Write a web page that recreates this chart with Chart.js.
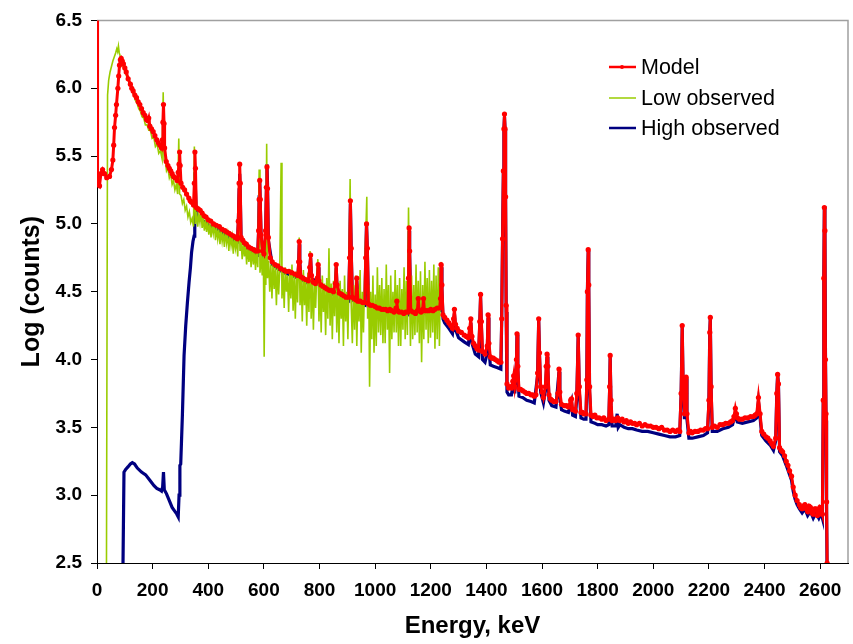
<!DOCTYPE html>
<html>
<head>
<meta charset="utf-8">
<title>Spectrum</title>
<script src="https://cdn.jsdelivr.net/npm/chart.js@4.4.1/dist/chart.umd.min.js"></script>
<style>
  html, body { margin: 0; padding: 0; background: #ffffff; }
  #wrap { width: 853px; height: 644px; }
</style>
</head>
<body>
<div id="wrap"><canvas id="spectrum" width="853" height="644"></canvas></div>
<script>
// tick labels
const energyTicks = [0, 200, 400, 600, 800, 1000, 1200, 1400, 1600, 1800, 2000, 2200, 2400, 2600];
const logTicks = [2.5, 3.0, 3.5, 4.0, 4.5, 5.0, 5.5, 6.0, 6.5];

// [energy keV, log(counts)]
const modelPoints = [
  [0,6.6],[2,5.32],[5,5.29],[9,5.28],[14,5.37],[20,5.40],[27,5.37],[35,5.34],[45,5.35],[52,5.40],
  [57,5.47],[60,5.58],[63,5.71],[67,5.80],[70,5.88],[75,6.00],[78,6.09],[81,6.17],[84,6.21],[87,6.22],
  [91,6.20],[95,6.18],[100,6.15],[105,6.12],[112,6.07],[120,6.03],[125,6.00],[130,5.98],[136,5.95],[142,5.93],
  [148,5.90],[154,5.88],[160,5.85],[166,5.82],[172,5.80],[178,5.77],[183,5.76],[186,5.78],[190,5.72],[196,5.70],
  [202,5.68],[208,5.65],[215,5.62],[220,5.60],[226,5.58],[232,5.56],[235,5.62],[237,5.75],[239,5.88],[241,5.74],
  [243,5.56],[249,5.46],[255,5.43],[260,5.41],[265,5.39],[270,5.37],[275,5.35],[280,5.34],[288,5.32],[292,5.38],
  [295,5.44],[297,5.53],[299,5.43],[302,5.30],[308,5.27],[315,5.25],[322,5.22],[330,5.19],[335,5.17],[340,5.16],
  [347,5.14],[350,5.30],[352,5.53],[354,5.41],[357,5.12],[364,5.11],[371,5.10],[378,5.08],[385,5.06],[392,5.05],
  [400,5.03],[409,5.02],[419,5.00],[429,4.99],[440,4.98],[450,4.96],[460,4.95],[467,4.94],[475,4.93],[483,4.92],
  [491,4.91],[498,4.90],[505,4.89],[508,5.02],[511,5.30],[513,5.44],[515,5.30],[518,4.90],[524,4.88],[530,4.86],
  [537,4.85],[545,4.83],[554,4.82],[564,4.81],[571,4.80],[578,4.80],[581,4.95],[583,5.18],[585,5.32],[587,5.18],
  [590,4.92],[595,4.80],[600,4.78],[606,4.95],[609,5.27],[611,5.42],[613,5.26],[616,4.90],[623,4.75],[630,4.72],
  [640,4.70],[650,4.69],[661,4.67],[672,4.66],[680,4.65],[690,4.65],[700,4.64],[711,4.63],[722,4.62],[725,4.72],
  [727,4.87],[729,4.72],[733,4.61],[741,4.60],[750,4.59],[760,4.58],[765,4.68],[768,4.77],[771,4.62],[778,4.57],
  [785,4.56],[792,4.60],[795,4.70],[798,4.58],[805,4.55],[812,4.54],[820,4.53],[827,4.52],[835,4.51],[842,4.51],
  [850,4.50],[857,4.56],[860,4.70],[863,4.55],[871,4.49],[880,4.48],[887,4.47],[895,4.46],[905,4.46],[908,4.75],
  [911,5.17],[914,4.82],[918,4.46],[924,4.45],[930,4.44],[934,4.60],[938,4.43],[946,4.43],[955,4.42],[963,4.42],
  [966,4.75],[969,5.00],[972,4.82],[976,4.41],[983,4.40],[990,4.40],[1000,4.39],[1008,4.38],[1015,4.38],[1023,4.37],
  [1030,4.37],[1038,4.37],[1045,4.36],[1053,4.37],[1060,4.36],[1068,4.35],[1075,4.38],[1078,4.43],[1081,4.36],[1086,4.35],
  [1095,4.35],[1103,4.34],[1110,4.35],[1118,4.35],[1120,4.60],[1122,4.97],[1124,4.80],[1128,4.36],[1136,4.35],[1145,4.34],
  [1152,4.36],[1155,4.45],[1158,4.36],[1165,4.35],[1171,4.37],[1174,4.45],[1177,4.36],[1185,4.36],[1193,4.36],[1200,4.37],
  [1208,4.36],[1215,4.37],[1223,4.38],[1232,4.38],[1235,4.45],[1237,4.70],[1240,4.55],[1244,4.33],[1250,4.31],[1258,4.29],
  [1265,4.27],[1272,4.25],[1278,4.23],[1282,4.30],[1285,4.37],[1289,4.26],[1295,4.23],[1300,4.21],[1310,4.20],[1320,4.18],
  [1328,4.17],[1335,4.16],[1340,4.23],[1344,4.30],[1348,4.17],[1354,4.12],[1360,4.10],[1366,4.08],[1372,4.07],[1376,4.28],
  [1379,4.48],[1382,4.28],[1386,4.06],[1395,4.04],[1403,4.10],[1406,4.33],[1409,4.12],[1414,4.02],[1420,4.01],[1425,4.01],
  [1432,4.00],[1440,3.99],[1446,3.98],[1452,3.98],[1455,4.30],[1458,4.89],[1461,5.39],[1463,5.70],[1465,5.81],[1467,5.70],
  [1469,5.20],[1471,4.40],[1474,3.82],[1480,3.79],[1485,3.80],[1490,3.79],[1495,3.84],[1498,3.88],[1502,3.80],[1506,3.86],
  [1508,4.00],[1510,4.19],[1513,3.95],[1517,3.78],[1523,3.78],[1530,3.77],[1538,3.76],[1545,3.75],[1552,3.75],[1560,3.74],
  [1566,3.74],[1572,3.73],[1578,3.74],[1584,3.90],[1588,4.30],[1591,4.05],[1595,3.80],[1600,3.76],[1605,3.72],[1612,3.80],
  [1615,3.95],[1618,4.04],[1621,3.95],[1625,3.74],[1630,3.71],[1635,3.70],[1642,3.69],[1650,3.69],[1657,3.75],[1661,3.93],
  [1664,3.76],[1670,3.67],[1680,3.66],[1688,3.66],[1695,3.65],[1703,3.70],[1706,3.71],[1710,3.63],[1715,3.63],[1720,3.62],
  [1725,3.75],[1730,4.18],[1734,3.80],[1740,3.61],[1745,3.61],[1750,3.60],[1758,3.60],[1761,3.85],[1763,4.50],[1766,4.81],
  [1768,4.55],[1771,3.80],[1776,3.59],[1783,3.58],[1790,3.59],[1797,3.57],[1805,3.57],[1815,3.56],[1822,3.57],[1830,3.55],
  [1840,3.56],[1843,3.80],[1845,4.03],[1848,3.70],[1852,3.55],[1858,3.56],[1865,3.55],[1872,3.57],[1880,3.55],[1888,3.56],
  [1895,3.54],[1903,3.55],[1910,3.53],[1918,3.54],[1925,3.53],[1933,3.53],[1940,3.52],[1950,3.53],[1960,3.51],[1970,3.52],
  [1980,3.51],[1990,3.51],[2000,3.50],[2010,3.50],[2020,3.49],[2030,3.50],[2040,3.48],[2050,3.48],[2060,3.47],[2070,3.48],
  [2080,3.47],[2088,3.48],[2095,3.47],[2100,3.75],[2104,4.25],[2107,3.85],[2112,3.60],[2116,3.75],[2118,3.87],[2121,3.60],
  [2128,3.46],[2134,3.47],[2140,3.46],[2150,3.47],[2160,3.47],[2170,3.48],[2180,3.48],[2188,3.49],[2195,3.49],[2200,3.70],
  [2203,4.20],[2205,4.31],[2208,3.80],[2212,3.50],[2220,3.51],[2230,3.50],[2240,3.52],[2250,3.52],[2260,3.53],[2270,3.53],
  [2278,3.54],[2285,3.55],[2290,3.58],[2295,3.64],[2299,3.60],[2302,3.57],[2310,3.56],[2320,3.56],[2330,3.57],[2340,3.57],
  [2350,3.58],[2360,3.58],[2366,3.59],[2372,3.60],[2378,3.72],[2384,3.60],[2390,3.47],[2397,3.45],[2405,3.43],[2412,3.42],
  [2420,3.40],[2426,3.38],[2432,3.36],[2440,3.42],[2444,3.75],[2447,3.89],[2450,3.82],[2454,3.35],[2460,3.33],[2465,3.32],
  [2472,3.29],[2478,3.25],[2484,3.22],[2490,3.18],[2497,3.14],[2503,3.06],[2510,3.00],[2517,2.96],[2525,2.93],[2530,2.91],
  [2535,2.90],[2540,2.92],[2545,2.93],[2550,2.90],[2555,2.88],[2560,2.92],[2565,2.91],[2570,2.87],[2575,2.86],[2580,2.90],
  [2585,2.90],[2590,2.85],[2595,2.86],[2599,2.91],[2603,2.90],[2608,2.86],[2611,3.70],[2613,4.60],[2615,5.12],[2617,4.95],
  [2619,4.00],[2621,3.60],[2623,2.95],[2625,2.50]
];

const lowPoints = [
  [34,2.40],[38,5.95],[42,6.06],[47,6.12],[52,6.16],[57,6.20],[62,6.23],[67,6.26],[71,6.29],[74,6.27],
  [77,6.31],[80,6.26],[83,6.24],[87,6.20],[92,6.17],[97,6.14],[102,6.12],[108,6.08],[114,6.05],[120,6.02],
  [126,5.98],[132,5.95],[138,5.91],[144,5.89],[150,5.85],[156,5.83],[162,5.79],[168,5.78],[174,5.73],[180,5.73],
  [186,5.69],[192,5.69],[198,5.63],[204,5.64],[210,5.57],[216,5.59],[222,5.52],[228,5.54],[234,5.48],[238,5.97],
  [241,5.47],[246,5.46],[250,5.39],[255,5.41],[260,5.34],[265,5.37],[270,5.29],[275,5.32],[280,5.25],[285,5.29],
  [290,5.22],[294,5.63],[297,5.22],[302,5.21],[307,5.15],[312,5.18],[317,5.10],[322,5.13],[327,5.05],[332,5.09],
  [337,5.01],[342,5.04],[347,4.98],[350,5.57],[354,5.00],[358,5.09],[362,4.98],[366,5.07],[370,5.01],[374,5.10],
  [378,4.97],[382,5.04],[386,4.95],[390,5.03],[394,4.94],[398,5.02],[402,4.92],[406,5.00],[410,4.90],[414,4.99],
  [418,4.93],[422,5.00],[426,4.88],[430,4.97],[434,4.89],[438,4.96],[442,4.85],[446,4.95],[450,4.87],[454,4.93],
  [458,4.83],[462,4.95],[466,4.86],[470,4.92],[474,4.80],[478,4.92],[482,4.84],[486,4.90],[490,4.78],[494,4.90],
  [498,4.82],[502,4.88],[506,4.76],[511,5.20],[514,4.80],[518,4.87],[522,4.74],[526,4.86],[530,4.76],[534,4.84],
  [538,4.70],[542,4.84],[546,4.72],[550,4.82],[554,4.68],[558,4.83],[562,4.70],[566,4.80],[570,4.66],[574,4.82],
  [578,4.68],[583,5.40],[586,4.64],[590,4.78],[594,4.62],[598,4.80],[601,4.02],[604,4.75],[607,4.55],[610,5.59],
  [613,4.60],[617,4.73],[621,4.50],[625,4.70],[629,4.45],[633,4.72],[637,4.52],[641,4.68],[645,4.40],[649,4.70],
  [653,4.48],[657,4.66],[662,5.45],[665,4.45],[669,4.64],[673,4.38],[677,4.68],[681,4.50],[685,4.62],[689,4.35],
  [693,4.66],[697,4.45],[701,4.70],[705,4.36],[709,4.62],[713,4.30],[717,4.65],[721,4.42],[725,4.75],[727,4.90],
  [730,4.40],[734,4.62],[738,4.28],[742,4.66],[746,4.40],[750,4.60],[754,4.25],[758,4.64],[762,4.35],[766,4.80],
  [770,4.30],[774,4.60],[778,4.22],[782,4.58],[786,4.38],[790,4.62],[794,4.74],[798,4.28],[802,4.58],[806,4.20],
  [810,4.62],[814,4.35],[818,4.56],[822,4.18],[826,4.60],[830,4.30],[834,4.82],[838,4.25],[842,4.56],[846,4.15],
  [850,4.58],[854,4.32],[858,4.70],[862,4.20],[866,4.55],[870,4.12],[874,4.58],[878,4.30],[882,4.52],[886,4.10],
  [890,4.62],[894,4.28],[898,4.50],[902,4.15],[906,4.60],[910,5.33],[914,4.40],[918,4.12],[922,4.55],[926,4.22],
  [930,4.62],[934,4.10],[938,4.52],[942,4.28],[946,4.66],[950,4.05],[954,4.50],[958,4.20],[962,4.58],[966,4.90],
  [970,5.20],[973,4.30],[977,4.55],[980,3.80],[984,4.50],[988,4.15],[992,4.62],[996,4.05],[1000,4.48],[1004,4.10],
  [1008,4.68],[1012,4.20],[1016,4.55],[1020,4.18],[1024,4.60],[1028,4.12],[1032,4.52],[1036,4.12],[1040,4.70],[1044,4.22],
  [1048,4.55],[1052,3.90],[1056,4.62],[1060,4.15],[1064,4.50],[1068,4.20],[1072,4.66],[1076,4.20],[1080,4.55],[1084,4.10],
  [1088,4.60],[1092,4.10],[1096,4.52],[1100,4.22],[1104,4.68],[1108,4.15],[1112,4.58],[1116,4.18],[1120,5.12],[1123,4.55],
  [1127,4.10],[1131,4.62],[1135,4.15],[1139,4.55],[1143,4.18],[1147,4.70],[1151,4.20],[1155,4.58],[1159,4.12],[1163,4.65],
  [1167,3.98],[1171,4.55],[1175,4.15],[1179,4.72],[1183,4.22],[1187,4.60],[1191,4.12],[1195,4.66],[1199,4.16],[1203,4.58],
  [1207,4.20],[1211,4.70],[1215,4.08],[1219,4.62],[1223,4.15],[1227,4.68],[1231,4.10],[1235,4.65],[1238,4.72]
];

const highPoints = [
  [93,2.40],[97,3.17],[103,3.19],[112,3.21],[120,3.23],[127,3.24],[135,3.23],[145,3.20],[160,3.17],[175,3.15],
  [190,3.11],[205,3.07],[215,3.05],[225,3.04],[232,3.03],[236,3.06],[239,3.17],[242,3.04],[250,3.01],[260,2.96],
  [270,2.91],[280,2.88],[287,2.86],[292,2.84],[295,3.00],[298,3.22],[301,3.23],[307,3.59],[313,4.03],[319,4.25],
  [325,4.42],[331,4.57],[336,4.68],[340,4.79],[345,4.87],[349,4.91],[351,5.10],[352,5.38],[354,5.25],[357,5.06],
  [360,5.04],[375,5.03],[390,5.01],[400,4.99],[420,4.97],[440,4.95],[460,4.92],[490,4.88],[505,4.87],[508,5.00],
  [511,5.25],[513,5.37],[515,5.22],[518,4.88],[540,4.82],[564,4.78],[578,4.77],[581,4.95],[583,5.20],[585,5.32],
  [587,5.15],[590,4.90],[600,4.75],[606,4.90],[609,5.25],[611,5.44],[613,5.30],[616,4.88],[630,4.70],[650,4.67],
  [672,4.64],[700,4.62],[722,4.60],[725,4.70],[727,4.85],[729,4.72],[733,4.59],[760,4.56],[765,4.66],[768,4.75],
  [771,4.60],[792,4.57],[795,4.68],[798,4.55],[850,4.48],[857,4.54],[860,4.68],[863,4.52],[905,4.44],[908,4.72],
  [911,5.15],[914,4.80],[918,4.44],[930,4.42],[934,4.58],[938,4.41],[963,4.40],[966,4.72],[969,5.00],[972,4.80],
  [976,4.39],[1000,4.37],[1060,4.34],[1118,4.33],[1120,4.58],[1122,4.95],[1124,4.78],[1128,4.34],[1185,4.34],[1232,4.36],
  [1235,4.42],[1237,4.68],[1240,4.52],[1244,4.30],[1250,4.27],[1265,4.23],[1278,4.19],[1282,4.27],[1285,4.34],[1289,4.22],
  [1300,4.16],[1320,4.13],[1335,4.11],[1340,4.19],[1344,4.27],[1348,4.12],[1360,4.04],[1372,4.02],[1376,4.25],[1379,4.46],
  [1382,4.24],[1386,4.00],[1395,3.98],[1403,4.05],[1406,4.31],[1409,4.08],[1414,3.96],[1425,3.95],[1440,3.94],[1452,3.93],
  [1455,4.30],[1458,4.89],[1461,5.39],[1463,5.70],[1465,5.79],[1467,5.70],[1469,5.20],[1471,4.35],[1474,3.76],[1480,3.74],
  [1490,3.74],[1498,3.84],[1502,3.75],[1508,3.98],[1510,4.18],[1513,3.92],[1517,3.73],[1530,3.72],[1545,3.70],[1560,3.69],
  [1572,3.68],[1584,3.88],[1588,4.29],[1591,4.02],[1595,3.76],[1605,3.68],[1612,3.77],[1618,4.02],[1621,3.92],[1625,3.70],
  [1635,3.66],[1650,3.65],[1661,3.91],[1664,3.72],[1670,3.63],[1680,3.62],[1695,3.61],[1706,3.69],[1710,3.59],[1720,3.58],
  [1725,3.72],[1730,4.18],[1734,3.76],[1740,3.57],[1750,3.56],[1758,3.56],[1761,3.85],[1763,4.50],[1766,4.80],[1768,4.52],
  [1771,3.76],[1776,3.54],[1790,3.53],[1800,3.52],[1815,3.52],[1830,3.51],[1840,3.52],[1843,3.78],[1845,4.02],[1848,3.66],
  [1852,3.51],[1865,3.51],[1870,3.60],[1874,3.50],[1880,3.52],[1895,3.50],[1910,3.49],[1925,3.49],[1940,3.48],[1960,3.47],
  [1980,3.47],[2000,3.46],[2020,3.45],[2040,3.44],[2060,3.43],[2080,3.43],[2095,3.44],[2100,3.74],[2104,4.24],[2107,3.82],
  [2112,3.56],[2116,3.72],[2118,3.86],[2121,3.56],[2128,3.42],[2140,3.42],[2160,3.43],[2180,3.44],[2195,3.46],[2200,3.68],
  [2203,4.20],[2205,4.31],[2208,3.76],[2212,3.47],[2230,3.47],[2250,3.49],[2270,3.50],[2285,3.52],[2295,3.60],[2302,3.54],
  [2320,3.53],[2340,3.54],[2360,3.55],[2372,3.57],[2378,3.69],[2384,3.57],[2390,3.44],[2405,3.40],[2420,3.37],[2432,3.33],
  [2440,3.40],[2444,3.75],[2447,3.89],[2450,3.82],[2454,3.32],[2465,3.29],[2478,3.22],[2490,3.15],[2497,3.11],[2503,3.03],
  [2510,2.97],[2517,2.93],[2525,2.90],[2535,2.87],[2545,2.90],[2555,2.85],[2565,2.88],[2575,2.83],[2585,2.87],[2595,2.83],
  [2603,2.87],[2608,2.83],[2611,3.70],[2613,4.60],[2615,5.13],[2617,4.98],[2619,4.05],[2621,3.55],[2623,2.90],[2625,2.40]
];

const toXY = pts => pts.map(p => ({ x: p[0], y: p[1] }));
const axisFont = { family: 'Liberation Sans, Arial, sans-serif', size: 19, weight: 'bold' };
const xTitleFont = { family: 'Liberation Sans, Arial, sans-serif', size: 24, weight: 'bold' };
const yTitleFont = { family: 'Liberation Sans, Arial, sans-serif', size: 25, weight: 'bold' };

// grey plot-area border on top and right, legend in the corner
const framePlugin = {
  id: 'frame',
  beforeDatasetsDraw(chart) {
    const a = chart.chartArea;
    const ctx = chart.ctx;
    ctx.save();
    ctx.strokeStyle = '#a0a0a0';
    ctx.lineWidth = 1.5;
    ctx.beginPath();
    ctx.moveTo(a.left, a.top);
    ctx.lineTo(a.right, a.top);
    ctx.lineTo(a.right, a.bottom);
    ctx.stroke();
    ctx.restore();
  },
  afterDraw(chart) {
    const ctx = chart.ctx;
    const rows = [67, 98, 128];
    ctx.save();
    ctx.font = '21.5px "Liberation Sans", Arial, sans-serif';
    ctx.textBaseline = 'middle';
    chart.data.datasets.forEach((ds, i) => {
      const y = rows[i];
      ctx.strokeStyle = ds.borderColor;
      ctx.lineWidth = ds.legendWidth;
      ctx.beginPath();
      ctx.moveTo(609, y);
      ctx.lineTo(636, y);
      ctx.stroke();
      if (ds.pointRadius > 0) {
        ctx.fillStyle = ds.borderColor;
        ctx.beginPath();
        ctx.arc(622, y, 2, 0, Math.PI * 2);
        ctx.fill();
      }
      ctx.fillStyle = '#000000';
      ctx.fillText(ds.label, 641, y + 1);
    });
    ctx.restore();
  }
};

new Chart(document.getElementById('spectrum'), {
  type: 'line',
  data: {
    datasets: [
      {
        label: 'Model',
        data: toXY(modelPoints),
        borderColor: '#ff0000',
        borderWidth: 3,
        legendWidth: 2.5,
        pointRadius: 2.6,
        pointBackgroundColor: '#ff0000',
        pointBorderWidth: 0,
        tension: 0
      },
      {
        label: 'Low observed',
        data: toXY(lowPoints),
        borderColor: '#99cc00',
        borderWidth: 1.6,
        legendWidth: 1.5,
        pointRadius: 0,
        tension: 0
      },
      {
        label: 'High observed',
        data: toXY(highPoints),
        borderColor: '#000080',
        borderWidth: 3.2,
        legendWidth: 2.5,
        pointRadius: 0,
        tension: 0
      }
    ]
  },
  options: {
    responsive: false,
    devicePixelRatio: 1,
    animation: false,
    events: [],
    layout: { padding: { top: 15, right: 5, bottom: 0, left: 0 } },
    plugins: {
      legend: { display: false },
      tooltip: { enabled: false }
    },
    scales: {
      x: {
        type: 'linear',
        min: 0,
        max: 2700,
        afterBuildTicks: scale => { scale.ticks = energyTicks.map(v => ({ value: v })); },
        afterFit: scale => { scale.height = 81; },
        ticks: { color: '#000', font: axisFont, padding: 10, maxRotation: 0, autoSkip: false, callback: v => String(v) },
        grid: { display: true, drawOnChartArea: false, drawTicks: true, tickLength: 6, color: '#000' },
        border: { color: '#000', width: 1 },
        title: { display: true, text: 'Energy, keV', color: '#000', font: xTitleFont, padding: { top: 0, bottom: 3 } }
      },
      y: {
        type: 'linear',
        min: 2.5,
        max: 6.5,
        afterBuildTicks: scale => { scale.ticks = logTicks.map(v => ({ value: v })); },
        afterFit: scale => { scale.width = 97; },
        ticks: { color: '#000', font: axisFont, padding: 9, callback: v => v.toFixed(1) },
        grid: { display: true, drawOnChartArea: false, drawTicks: true, tickLength: 6, color: '#000' },
        border: { color: '#000', width: 1 },
        title: { display: true, text: 'Log (counts)', color: '#000', font: yTitleFont, padding: { top: 17, bottom: 0 } }
      }
    }
  },
  plugins: [framePlugin]
});
</script>
</body>
</html>
